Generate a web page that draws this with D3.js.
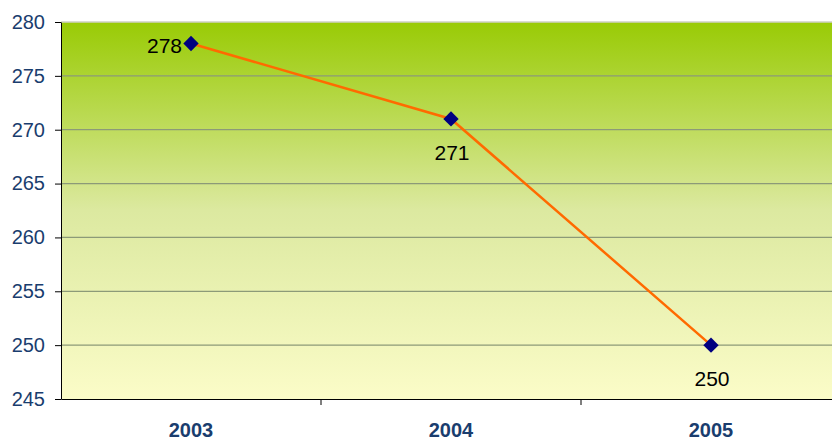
<!DOCTYPE html>
<html>
<head>
<meta charset="utf-8">
<script src="https://cdn.jsdelivr.net/npm/d3@7"></script>
<style>
  body { margin: 0; background: #fff; }
  svg { display: block; font-family: "Liberation Sans", Arial, sans-serif; }
</style>
</head>
<body>
<svg width="832" height="442"></svg>
<script>
const years = ["2003", "2004", "2005"];
const values = [278, 271, 250];
const labelPos = ["left", "below", "below"];
const yTicks = [245, 250, 255, 260, 265, 270, 275, 280];

const svg = d3.select("svg");
const plotLeft = 61, plotTop = 22, plotBottom = 399, bandW = 260;

const x = d3.scaleBand(years, [plotLeft, plotLeft + bandW * years.length]);
const y = d3.scaleLinear().domain([245, 280]).range([plotBottom, plotTop]);

const defs = svg.append("defs");
const grad = defs.append("linearGradient")
    .attr("id", "bg").attr("x1", 0).attr("y1", 0).attr("x2", 0).attr("y2", 1);
grad.append("stop").attr("offset", "0%").attr("stop-color", "#99cb05");
grad.append("stop").attr("offset", "50%").attr("stop-color", "#dce9a0");
grad.append("stop").attr("offset", "100%").attr("stop-color", "#fbfcc8");

svg.append("rect")
    .attr("x", plotLeft).attr("y", plotTop)
    .attr("width", 832 - plotLeft).attr("height", plotBottom - plotTop)
    .attr("fill", "url(#bg)");

// gridlines
svg.append("g")
    .selectAll("line").data(yTicks.slice(1))
  .join("line")
    .attr("x1", plotLeft).attr("x2", 832)
    .attr("y1", d => y(d)).attr("y2", d => y(d))
    .attr("stroke", d => d === 280 ? "#cfd0c4" : "#8c9a78")
    .attr("stroke-width", d => d === 280 ? 1.5 : 1.3);

// y axis
const yAxis = svg.append("g")
    .attr("transform", `translate(${plotLeft},0)`)
    .call(d3.axisLeft(y).tickValues(yTicks).tickSize(6).tickPadding(10).tickSizeOuter(0));
yAxis.select(".domain").attr("stroke", "#000");
yAxis.selectAll(".tick line").attr("stroke", "#000");
yAxis.selectAll(".tick text")
    .attr("fill", "#1a3d6e").style("font-size", "20px").attr("font-family", null);

// x axis
const xAxis = svg.append("g")
    .attr("transform", `translate(0,${plotBottom})`)
    .call(d3.axisBottom(x).tickSize(0).tickPadding(24));
xAxis.select(".domain").attr("stroke", "#000");
xAxis.selectAll(".tick text")
    .attr("fill", "#1a3d6e").style("font-size", "20px").style("font-weight", "bold")
    .attr("font-family", null);
xAxis.selectAll(".sep").data(years.slice(1))
  .join("line")
    .attr("x1", d => x(d)).attr("x2", d => x(d))
    .attr("y1", 0).attr("y2", 6)
    .attr("stroke", "#000");

const cx = d => x(d) + x.bandwidth() / 2;

svg.append("path")
    .datum(years)
    .attr("fill", "none")
    .attr("stroke", "#ff6a00")
    .attr("stroke-width", 2.5)
    .attr("d", d3.line().x(d => cx(d)).y((d, i) => y(values[i])));

svg.append("g")
    .selectAll("path").data(years)
  .join("path")
    .attr("d", d3.symbol(d3.symbolDiamond2, 150))
    .attr("transform", (d, i) => `translate(${cx(d)},${y(values[i])})`)
    .attr("fill", "#000080");

svg.append("g")
    .selectAll("text").data(years)
  .join("text")
    .attr("x", (d, i) => labelPos[i] === "left" ? cx(d) - 9 : cx(d) + 1)
    .attr("y", (d, i) => labelPos[i] === "left" ? y(values[i]) + 9 : y(values[i]) + 41)
    .attr("text-anchor", (d, i) => labelPos[i] === "left" ? "end" : "middle")
    .style("font-size", "21px")
    .attr("fill", "#000")
    .text((d, i) => values[i]);
</script>
</body>
</html>
